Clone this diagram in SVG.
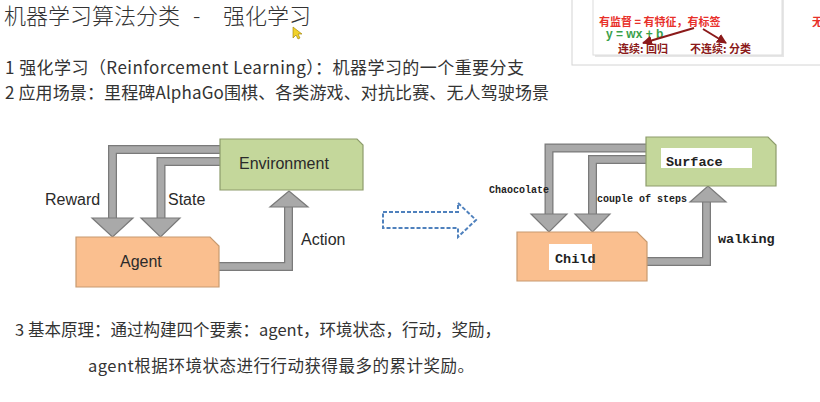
<svg xmlns="http://www.w3.org/2000/svg" width="820" height="402" viewBox="0 0 820 402">
<defs>
<style>
.cn{font-family:"Noto Sans CJK SC","Liberation Serif",serif;fill:#333}
.lbl{font-family:"Liberation Sans","Noto Sans",sans-serif;font-size:16px;fill:#2a2a2a}
.mono{font-family:"Liberation Mono","DejaVu Sans Mono",monospace;font-weight:bold;fill:#222}
.pipeo{fill:none;stroke:#7a7a7a;stroke-width:9;stroke-linejoin:miter}
.pipei{fill:none;stroke:#a9a9a9;stroke-width:6.5;stroke-linejoin:miter}
.head{fill:#a9a9a9;stroke:#7a7a7a;stroke-width:1.2;stroke-linejoin:miter}
.green{fill:#c4d79b;stroke:#8d9c6c;stroke-width:1.2}
.orange{fill:#fabf8f;stroke:#c79a70;stroke-width:1.2}
.note{font-family:"Noto Sans CJK SC","Liberation Sans",sans-serif;font-weight:bold;font-size:11px}
</style>
<marker id="ra" viewBox="0 0 10 10" refX="9" refY="5" markerWidth="5" markerHeight="5" orient="auto"><path d="M0,0 L10,5 L0,10 z" fill="#8b1a1a"/></marker>
</defs>
<rect width="820" height="402" fill="#ffffff"/>

<!-- top right panel -->
<g id="note-panel">
<rect x="572" y="-5" width="260" height="70" fill="#fff" stroke="#d4d4d4"/>
<rect x="595" y="-3" width="189" height="60" fill="#e6e6e6"/>
<rect x="593" y="-5" width="189" height="60" fill="#fff" stroke="#dcdcdc"/>
<text class="note" x="599" y="26" fill="#e8302a">有监督 = 有特征，有标签</text>
<text x="606" y="38" font-family="Liberation Sans,sans-serif" font-weight="bold" font-size="12" fill="#3aa04a">y = wx + b</text>
<text class="note" x="618" y="53" fill="#8b1a1a">连续: 回归</text>
<text class="note" x="690" y="53" fill="#8b1a1a">不连续: 分类</text>
<text class="note" x="812" y="26" fill="#e8302a">无</text>
</g>
<g id="note-arrows" stroke="#8b1a1a" stroke-width="2" fill="none">
<path d="M694 28 L643 43" marker-end="url(#ra)"/>
<path d="M703 29 L726 43" marker-end="url(#ra)"/>
</g>

<!-- cursor -->
<polygon points="293,27 293,38 296,35 298,39 300,38 298,34 302,34" fill="#f2d22a" stroke="#9a7d00" stroke-width="0.6"/>

<!-- texts -->
<text class="cn" font-size="22" font-weight="300" y="24" fill="#3a3a3a"><tspan x="4">机器学习算法分类</tspan><tspan x="193">-</tspan><tspan x="223">强化学习</tspan></text>
<text class="cn" font-size="17" x="5" y="74" textLength="519" lengthAdjust="spacing">1 强化学习（Reinforcement Learning）：机器学习的一个重要分支</text>
<text class="cn" font-size="17" x="5" y="99" textLength="544" lengthAdjust="spacing">2 应用场景：里程碑AlphaGo围棋、各类游戏、对抗比赛、无人驾驶场景</text>
<text class="cn" font-size="16.5" x="15" y="336" textLength="486" lengthAdjust="spacing">3 基本原理：通过构建四个要素：agent，环境状态，行动，奖励，</text>
<text class="cn" font-size="16.5" x="88" y="372" textLength="386" lengthAdjust="spacing">agent根据环境状态进行行动获得最多的累计奖励。</text>

<!-- connectors -->
<g id="connectors">
<path class="pipeo" d="M222 149.5 H112.5 V219"/>
<path class="pipei" d="M222 149.5 H112.5 V220"/>
<polygon class="head" points="92,218 133,218 112.5,237"/>
<path class="pipeo" d="M222 161.5 H161 V219"/>
<path class="pipei" d="M222 161.5 H161 V220"/>
<polygon class="head" points="141,218 180,218 160.5,237"/>
<path class="pipeo" d="M217 266.5 H288.5 V206"/>
<path class="pipei" d="M217 266.5 H288.5 V205"/>
<polygon class="head" points="270,207 308,207 289,191"/>

<path class="pipeo" d="M647 148 H549 V215"/>
<path class="pipei" d="M647 148 H549 V216"/>
<polygon class="head" points="531,214 567,214 549,232"/>
<path class="pipeo" d="M647 159.5 H592.5 V215"/>
<path class="pipei" d="M647 159.5 H592.5 V216"/>
<polygon class="head" points="575,214 610,214 592.5,232"/>
<path class="pipeo" d="M645 261.5 H706.5 V201"/>
<path class="pipei" d="M645 261.5 H706.5 V200"/>
<polygon class="head" points="690,202 726,202 708,186"/>

<path d="M383 212 H458 V203 L476 220 L458 237 V228 H383 Z" fill="none" stroke="#4f81bd" stroke-width="2" stroke-dasharray="4 2"/>
</g>

<!-- labels -->
<text class="lbl" x="45" y="205">Reward</text>
<text class="lbl" x="168" y="205">State</text>
<text class="lbl" x="301" y="245">Action</text>
<text class="mono" font-size="10" x="489" y="193">Chaocolate</text>
<text class="mono" font-size="10" x="597" y="202">couple of steps</text>
<text class="mono" font-size="13.5" x="718" y="243">walking</text>

<!-- nodes -->
<g id="environment">
<polygon class="green" points="220,139 357,139 363,145 363,190 220,190"/>
<text class="lbl" font-size="17" x="239" y="169">Environment</text>
</g>
<g id="agent">
<polygon class="orange" points="76,237 210,237 219,246 219,287 76,287"/>
<text class="lbl" font-size="17" x="120" y="267">Agent</text>
</g>
<g id="surface">
<polygon class="green" points="646,137 768,137 776,145 776,186 646,186"/>
<rect x="661" y="148" width="91" height="20" fill="#fff"/>
<text class="mono" font-size="13.5" x="666" y="166">Surface</text>
</g>
<g id="child">
<polygon class="orange" points="517,232 637,232 647,242 647,281 517,281"/>
<rect x="549" y="244" width="43" height="26" fill="#fff"/>
<text class="mono" font-size="13.5" x="555" y="263">Child</text>
</g>
</svg>
